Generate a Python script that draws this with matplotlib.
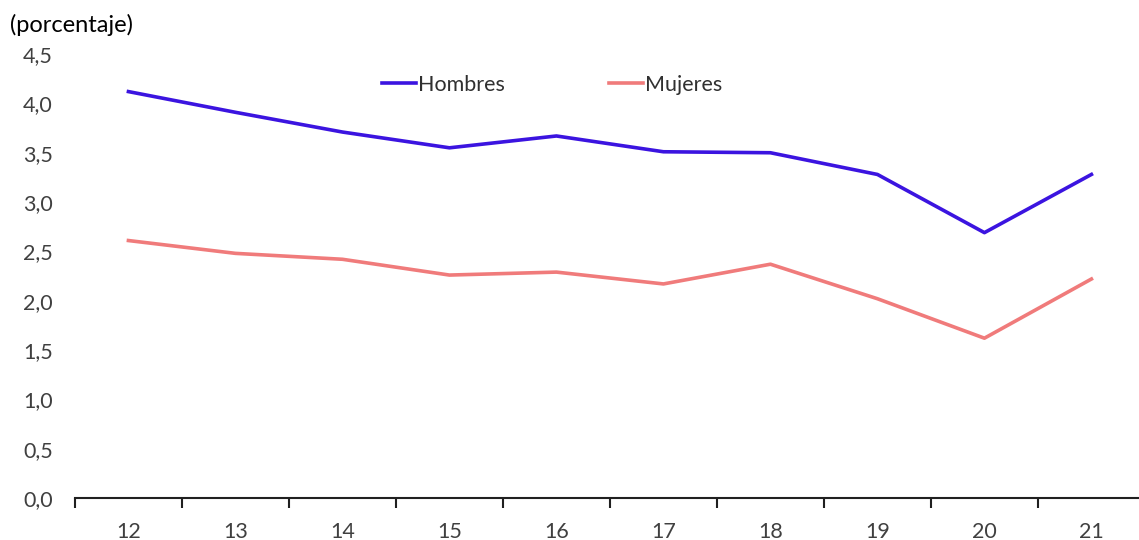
import numpy as np
import matplotlib.pyplot as plt
from matplotlib.ticker import FuncFormatter, FixedLocator

plt.rcParams['font.family'] = ['Lato', 'DejaVu Sans']

# Datos
anios = ["12", "13", "14", "15", "16", "17", "18", "19", "20", "21"]
hombres = [4.12, 3.91, 3.71, 3.55, 3.67, 3.51, 3.50, 3.28, 2.69, 3.28]
mujeres = [2.61, 2.48, 2.42, 2.26, 2.29, 2.17, 2.37, 2.02, 1.62, 2.22]

x = np.arange(len(anios))

fig = plt.figure(figsize=(11.39, 5.4), dpi=100)
ax = fig.add_axes([0.0658, 0.0778, 0.9394, 0.822])

ax.plot(x, hombres, color='#3b14e0', lw=2.6, label='Hombres')
ax.plot(x, mujeres, color='#f07b7b', lw=2.6, label='Mujeres')

ax.set_xlim(-0.5, len(anios) - 0.5)
ax.set_ylim(0, 4.5)
ax.set_yticks(np.arange(0, 4.51, 0.5))
ax.yaxis.set_major_formatter(FuncFormatter(lambda v, p: f"{v:.1f}".replace('.', ',')))
ax.set_xticks(x)
ax.set_xticklabels(anios)
ax.xaxis.set_minor_locator(FixedLocator(np.arange(-0.5, len(anios), 1.0)))

for s in ['top', 'right', 'left']:
    ax.spines[s].set_visible(False)
ax.spines['bottom'].set_linewidth(1.5)
ax.spines['bottom'].set_color('#202020')

ax.tick_params(axis='y', length=0, labelsize=15.5, labelcolor='#404040', pad=16)
ax.tick_params(axis='x', which='major', length=0, labelsize=15.5, labelcolor='#404040', pad=17)
ax.tick_params(axis='x', which='minor', length=7, width=1.5, color='#202020', direction='out')

ax.legend(loc='upper center', bbox_to_anchor=(0.446, 0.997), ncol=2, frameon=False,
          fontsize=15.5, handlelength=1.6, handletextpad=0.1, columnspacing=4.8,
          labelcolor='#303030')

fig.text(0.009, 0.953, "(porcentaje)", fontsize=17, color='black', va='center')

fig.savefig('out.png', dpi=100)
